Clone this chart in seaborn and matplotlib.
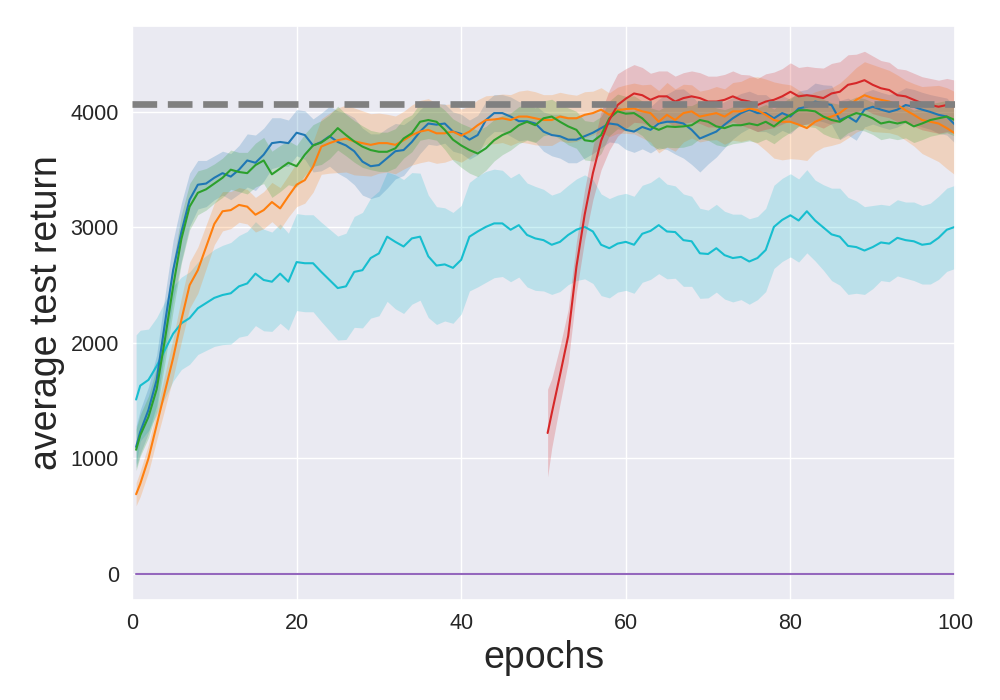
import matplotlib
matplotlib.use("Agg")
import matplotlib.pyplot as plt
import seaborn as sns
import numpy as np
import pandas as pd

# ---------------- data ----------------
epochs = [0.5] + list(range(1, 101))
red_epochs = [50.5] + list(range(51, 101))

blue = [1100, 1230, 1420, 1680, 2170, 2630, 2960, 3240, 3370, 3380, 3430,
        3470, 3440, 3500, 3580, 3560, 3630, 3730, 3740, 3730, 3820,
        3800, 3710, 3740, 3790, 3740, 3710, 3660, 3570, 3530, 3540,
        3600, 3660, 3670, 3740, 3830, 3900, 3890, 3900, 3830, 3810,
        3760, 3800, 3930, 3990, 3990, 3960, 3920, 3920, 3900, 3830,
        3800, 3790, 3760, 3760, 3790, 3820, 3860, 3900, 3890, 3845,
        3830, 3870, 3845, 3900, 3915, 3915, 3900, 3845, 3770, 3800,
        3830, 3890, 3945, 3990, 4020, 3990, 3990, 3945, 3990, 3960,
        4030, 4045, 4090, 4075, 4060, 3930, 3960, 3915, 4020, 4045,
        4020, 4000, 4020, 4060, 4045, 4020, 4000, 3975, 3960, 3890]
blue_hw = [180, 190, 200, 220, 240, 260, 250, 230, 210, 200, 190,
           190, 200, 210, 230, 240, 230, 220, 210, 200, 200,
           210, 230, 250, 260, 270, 280, 290, 290, 280, 270,
           260, 240, 220, 200, 190, 180, 180, 170, 170, 170,
           170, 170, 160, 160, 160, 170, 170, 160, 160, 170,
           180, 190, 200, 200, 190, 180, 170, 160, 160, 170,
           180, 190, 200, 210, 240, 280, 300, 300, 290, 250,
           220, 200, 180, 170, 160, 160, 160, 150, 150, 150,
           150, 150, 160, 160, 170, 170, 160, 160, 150, 150,
           150, 150, 150, 150, 150, 150, 150, 160, 160, 160]

orange = [690, 780, 1000, 1290, 1580, 1870, 2200, 2500, 2630, 2830, 3030,
          3140, 3150, 3195, 3180, 3110, 3150, 3220, 3165, 3270, 3370,
          3410, 3525, 3700, 3730, 3755, 3770, 3745, 3730, 3715, 3730,
          3730, 3715, 3755, 3800, 3830, 3845, 3815, 3815, 3830, 3795,
          3830, 3885, 3930, 3935, 3945, 3930, 3960, 3960, 3945, 3930,
          3930, 3960, 3945, 3945, 3975, 3990, 4020, 3975, 4015, 4025,
          4030, 4005, 3990, 3915, 3975, 3930, 3990, 4005, 3960, 3975,
          3990, 3960, 4005, 4005, 4030, 4015, 3975, 3930, 3915, 3915,
          3890, 3860, 3915, 3945, 3960, 3990, 4045, 4105, 4145, 4120,
          4105, 4090, 4060, 4015, 3975, 3930, 3915, 3900, 3860, 3815]
orange_hw = [100, 110, 120, 130, 150, 170, 190, 200, 200, 190, 180,
             170, 160, 150, 150, 150, 160, 170, 180, 180, 190,
             200, 220, 240, 260, 280, 290, 290, 280, 270, 260,
             250, 250, 250, 260, 270, 270, 260, 250, 240, 230,
             220, 220, 210, 210, 210, 220, 220, 230, 230, 220,
             220, 210, 210, 200, 200, 190, 190, 190, 200, 210,
             220, 230, 250, 270, 280, 270, 250, 230, 220, 220,
             230, 240, 250, 260, 270, 290, 310, 330, 330, 320,
             300, 280, 260, 250, 250, 260, 270, 280, 290, 290,
             280, 270, 260, 260, 270, 290, 310, 330, 350, 360]

green = [1075, 1200, 1360, 1600, 2030, 2490, 2900, 3180, 3300, 3330, 3380,
         3430, 3500, 3480, 3470, 3540, 3580, 3460, 3510, 3560, 3530,
         3630, 3710, 3735, 3785, 3860, 3800, 3745, 3700, 3670, 3655,
         3655, 3685, 3770, 3815, 3915, 3930, 3915, 3845, 3760, 3710,
         3670, 3640, 3685, 3755, 3800, 3830, 3885, 3915, 3885, 3945,
         3960, 3915, 3875, 3845, 3755, 3745, 3800, 3945, 4005, 3985,
         3990, 3945, 3875, 3845, 3875, 3870, 3875, 3885, 3930, 3915,
         3875, 3860, 3885, 3885, 3900, 3885, 3915, 3875, 3930, 3975,
         4015, 4015, 4005, 3960, 3930, 3915, 3960, 3990, 3975, 3945,
         3900, 3915, 3900, 3915, 3875, 3900, 3930, 3945, 3960, 3930]
green_hw = [180, 180, 180, 190, 200, 210, 210, 200, 190, 180, 170,
            170, 170, 170, 180, 190, 200, 200, 200, 190, 180,
            180, 180, 190, 190, 190, 180, 180, 180, 170, 170,
            170, 170, 170, 160, 160, 160, 160, 170, 180, 190,
            200, 200, 190, 180, 170, 160, 160, 160, 150, 150,
            150, 150, 160, 160, 170, 170, 160, 150, 150, 150,
            150, 150, 160, 170, 180, 180, 180, 170, 160, 160,
            160, 160, 160, 150, 150, 150, 150, 150, 150, 150,
            140, 140, 140, 150, 150, 150, 140, 140, 140, 140,
            140, 140, 140, 140, 140, 140, 140, 140, 140, 140]

red = [1220, 1390, 1720, 2060, 2660, 3110, 3470, 3750, 3930, 4060, 4115,
       4160, 4145, 4105, 4135, 4135, 4090, 4120, 4135, 4120, 4090,
       4090, 4105, 4135, 4105, 4090, 4060, 4090, 4105, 4135, 4175,
       4135, 4145, 4135, 4120, 4160, 4175, 4235, 4250, 4275, 4235,
       4205, 4190, 4145, 4135, 4105, 4075, 4060, 4045, 4060, 4045]
red_hw = [380, 300, 250, 230, 220, 220, 230, 250, 260, 270, 260,
          250, 240, 230, 220, 220, 220, 220, 220, 220, 220,
          220, 220, 220, 220, 230, 230, 240, 240, 240, 250,
          250, 250, 250, 260, 260, 260, 260, 250, 250, 250,
          240, 240, 230, 230, 230, 230, 230, 230, 230, 230]

cyan = [1510, 1630, 1680, 1800, 1940, 2080, 2170, 2215, 2300, 2345, 2390,
        2415, 2430, 2490, 2515, 2600, 2545, 2530, 2600, 2530, 2700,
        2690, 2690, 2615, 2545, 2475, 2490, 2615, 2630, 2735, 2775,
        2920, 2875, 2835, 2905, 2920, 2750, 2670, 2680, 2650, 2720,
        2920, 2965, 3005, 3035, 3035, 2980, 3020, 2935, 2905, 2890,
        2850, 2875, 2935, 2980, 3005, 2965, 2850, 2820, 2860, 2875,
        2850, 2945, 2970, 3020, 2965, 2960, 2890, 2880, 2776, 2770,
        2820, 2760, 2735, 2745, 2705, 2735, 2805, 3005, 3065, 3105,
        3060, 3140, 3060, 3000, 2940, 2920, 2840, 2830, 2800, 2830,
        2870, 2860, 2910, 2890, 2880, 2850, 2860, 2910, 2980, 3005]
cyan_hw = [560, 480, 440, 420, 420, 410, 400, 400, 400, 410, 420,
           430, 440, 440, 450, 450, 440, 430, 430, 420, 420,
           420, 420, 430, 440, 450, 460, 480, 500, 520, 540,
           560, 580, 580, 570, 550, 530, 510, 490, 480, 470,
           470, 480, 480, 470, 460, 450, 450, 450, 450, 440,
           430, 430, 430, 440, 450, 450, 440, 430, 420, 420,
           420, 420, 420, 420, 410, 400, 400, 390, 390, 380,
           380, 380, 380, 370, 370, 360, 360, 360, 360, 360,
           360, 360, 350, 370, 400, 420, 420, 400, 380, 360,
           330, 330, 330, 330, 340, 340, 350, 360, 360, 360]

purple = [0, 0, 0, 0, 0, 0, 0, 0, 0, 0, 0,
          0, 0, 0, 0, 0, 0, 0, 0, 0, 0,
          0, 0, 0, 0, 0, 0, 0, 0, 0, 0,
          0, 0, 0, 0, 0, 0, 0, 0, 0, 0,
          0, 0, 0, 0, 0, 0, 0, 0, 0, 0,
          0, 0, 0, 0, 0, 0, 0, 0, 0, 0,
          0, 0, 0, 0, 0, 0, 0, 0, 0, 0,
          0, 0, 0, 0, 0, 0, 0, 0, 0, 0,
          0, 0, 0, 0, 0, 0, 0, 0, 0, 0,
          0, 0, 0, 0, 0, 0, 0, 0, 0, 0]

reference_return = 4065

x_ticks = [0, 20, 40, 60, 80, 100]
y_ticks = [0, 1000, 2000, 3000, 4000]
x_label = "epochs"
y_label = "average test return"

# ---------------- style ----------------
sns.set_theme(style="darkgrid")
plt.rcParams['font.family'] = ['Liberation Sans', 'DejaVu Sans']

fig = plt.figure(figsize=(10, 7), dpi=100)
ax = fig.add_axes([0.132, 0.143, 0.823, 0.820])

series = [
    (epochs, cyan, cyan_hw, "#17becf"),
    (epochs, blue, blue_hw, "#1f77b4"),
    (epochs, orange, orange_hw, "#ff7f0e"),
    (epochs, green, green_hw, "#2ca02c"),
    (red_epochs, red, red_hw, "#d62728"),
]

for xs, ys, hw, col in series:
    xs_a = np.asarray(xs, dtype=float)
    ys_a = np.asarray(ys, dtype=float)
    hw_a = np.asarray(hw, dtype=float)
    ax.fill_between(xs_a, ys_a - hw_a, ys_a + hw_a, color=col, alpha=0.22, lw=0)
    sns.lineplot(x=xs_a, y=ys_a, color=col, lw=1.5, ax=ax)

sns.lineplot(x=np.asarray(epochs, dtype=float), y=np.asarray(purple, dtype=float),
             color="#9467bd", lw=1.5, ax=ax)

ax.axhline(reference_return, color="gray", ls="--", lw=4.8, zorder=5)

ax.set_xlim(0, 100)
ax.set_ylim(-225, 4745)
ax.set_xticks(x_ticks)
ax.set_yticks(y_ticks)
ax.tick_params(axis="both", labelsize=15.5, colors="#262626")
ax.set_xlabel(x_label, fontsize=27, color="#262626")
ax.set_ylabel(y_label, fontsize=27, color="#262626")

fig.savefig("out.png", dpi=100)
